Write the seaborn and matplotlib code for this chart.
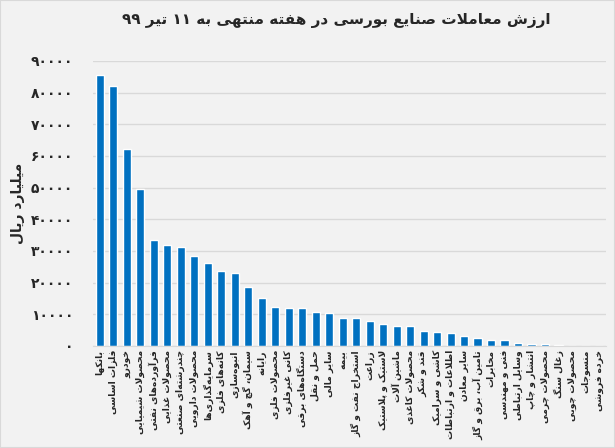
import re
import numpy as np
import pandas as pd
import seaborn as sns
import matplotlib
matplotlib.use("Agg")
import matplotlib.pyplot as plt

# industries, sorted by weekly trade value (billion rials)
industries = [
    "بانکها", "فلزات اساسی", "خودرو", "محصولات شیمیایی", "فرآورده‌های نفتی",
    "محصولات غذایی", "چندرشته‌ای صنعتی", "محصولات دارویی", "سرمایه‌گذاری‌ها",
    "کانه‌های فلزی", "انبوه‌سازی", "سیمان، گچ و آهک", "رایانه", "محصولات فلزی",
    "کانی غیرفلزی", "دستگاه‌های برقی", "حمل و نقل", "سایر مالی", "بیمه",
    "استخراج نفت و گاز", "زراعت", "لاستیک و پلاستیک", "ماشین آلات",
    "محصولات کاغذی", "قند و شکر", "کاشی و سرامیک", "اطلاعات و ارتباطات",
    "سایر معادن", "تامین آب، برق و گاز", "مخابرات", "فنی و مهندسی",
    "وسایل ارتباطی", "انتشار و چاپ", "محصولات چرمی", "زغال سنگ",
    "محصولات چوبی", "منسوجات", "خرده فروشی",
]
trade_value = [
    85700, 82000, 62100, 49400, 33400, 31900, 31100, 28400, 26100, 23500,
    23100, 18600, 15100, 12400, 12000, 11800, 10800, 10500, 8950, 8750,
    7800, 7050, 6420, 6200, 4650, 4330, 4100, 3050, 2630, 2000,
    1850, 1000, 650, 430, 220, 110, 60, 25,
]
y_ticks = [0, 10000, 20000, 30000, 40000, 50000, 60000, 70000, 80000, 90000]

title = "ارزش معاملات صنایع بورسی در هفته منتهی به ۱۱ تیر ۹۹"
y_title = "میلیارد ریال"

# matplotlib does no arabic shaping, so pick presentation forms by hand
# (isolated, final, initial, medial)
FORMS = {
    "ا": (0xFE8D, 0xFE8E), "آ": (0xFE81, 0xFE82), "أ": (0xFE83, 0xFE84),
    "د": (0xFEA9, 0xFEAA), "ذ": (0xFEAB, 0xFEAC), "ر": (0xFEAD, 0xFEAE),
    "ز": (0xFEAF, 0xFEB0), "ژ": (0xFB8A, 0xFB8B), "و": (0xFEED, 0xFEEE),
    "ب": (0xFE8F, 0xFE90, 0xFE91, 0xFE92), "پ": (0xFB56, 0xFB57, 0xFB58, 0xFB59),
    "ت": (0xFE95, 0xFE96, 0xFE97, 0xFE98), "ث": (0xFE99, 0xFE9A, 0xFE9B, 0xFE9C),
    "ج": (0xFE9D, 0xFE9E, 0xFE9F, 0xFEA0), "چ": (0xFB7A, 0xFB7B, 0xFB7C, 0xFB7D),
    "ح": (0xFEA1, 0xFEA2, 0xFEA3, 0xFEA4), "خ": (0xFEA5, 0xFEA6, 0xFEA7, 0xFEA8),
    "س": (0xFEB1, 0xFEB2, 0xFEB3, 0xFEB4), "ش": (0xFEB5, 0xFEB6, 0xFEB7, 0xFEB8),
    "ص": (0xFEB9, 0xFEBA, 0xFEBB, 0xFEBC), "ض": (0xFEBD, 0xFEBE, 0xFEBF, 0xFEC0),
    "ط": (0xFEC1, 0xFEC2, 0xFEC3, 0xFEC4), "ظ": (0xFEC5, 0xFEC6, 0xFEC7, 0xFEC8),
    "ع": (0xFEC9, 0xFECA, 0xFECB, 0xFECC), "غ": (0xFECD, 0xFECE, 0xFECF, 0xFED0),
    "ف": (0xFED1, 0xFED2, 0xFED3, 0xFED4), "ق": (0xFED5, 0xFED6, 0xFED7, 0xFED8),
    "ک": (0xFB8E, 0xFB8F, 0xFB90, 0xFB91), "گ": (0xFB92, 0xFB93, 0xFB94, 0xFB95),
    "ل": (0xFEDD, 0xFEDE, 0xFEDF, 0xFEE0), "م": (0xFEE1, 0xFEE2, 0xFEE3, 0xFEE4),
    "ن": (0xFEE5, 0xFEE6, 0xFEE7, 0xFEE8), "ه": (0xFEE9, 0xFEEA, 0xFEEB, 0xFEEC),
    "ی": (0xFBFC, 0xFBFD, 0xFBFE, 0xFBFF),
}
LAM_ALEF = {"ا": (0xFEFB, 0xFEFC), "آ": (0xFEF5, 0xFEF6), "أ": (0xFEF7, 0xFEF8)}


def dual(c):
    return c in FORMS and len(FORMS[c]) == 4


def shape(s):
    out = []
    i = 0
    while i < len(s):
        c = s[i]
        if c not in FORMS:
            if c != "\u200c":
                out.append(c)
            i += 1
            continue
        joins_prev = i > 0 and dual(s[i - 1])
        if c == "ل" and i + 1 < len(s) and s[i + 1] in LAM_ALEF:
            out.append(chr(LAM_ALEF[s[i + 1]][1 if joins_prev else 0]))
            i += 2
            continue
        joins_next = dual(c) and i + 1 < len(s) and s[i + 1] in FORMS
        f = FORMS[c]
        if joins_prev and joins_next:
            out.append(chr(f[3]))
        elif joins_next:
            out.append(chr(f[2]))
        elif joins_prev:
            out.append(chr(f[1]))
        else:
            out.append(chr(f[0]))
        i += 1
    vis = "".join(out[::-1])
    # digit runs stay left to right
    return re.sub("[۰-۹0-9]+", lambda m: m.group(0)[::-1], vis)


def fa_num(v):
    return str(v).translate(str.maketrans("0123456789", "۰۱۲۳۴۵۶۷۸۹"))


df = pd.DataFrame({"industry": [shape(t) for t in industries], "value": trade_value})

sns.set_style("white")
plt.rcParams["font.family"] = ["DejaVu Sans"]

fig = plt.figure(figsize=(6.15, 4.48), dpi=100, facecolor="#F2F2F2")
fig.patches.append(plt.Rectangle((0, 0), 1, 1, transform=fig.transFigure,
                                 fill=False, edgecolor="#D9D9D9", linewidth=1.5))
ax = fig.add_axes([0.151, 0.228, 0.834, 0.636])
ax.set_facecolor("#F2F2F2")

sns.barplot(data=df, x="industry", y="value", color="#0070C0", saturation=1,
            width=0.6, ax=ax)

ax.set_ylim(0, 90000)
ax.set_xlim(-0.5, len(industries) - 0.5)
ax.set_yticks(y_ticks)
ax.set_yticklabels([fa_num(v) for v in y_ticks], fontsize=10, fontweight="bold")
ax.yaxis.grid(True, color="#D9D9D9", linewidth=1)
ax.set_axisbelow(True)
ax.tick_params(axis="both", length=0)
ax.tick_params(axis="y", pad=14)
ax.tick_params(axis="x", pad=3)
plt.setp(ax.get_xticklabels(), rotation=90, fontsize=6.6, fontweight="bold",
         va="top", ha="center")
for side in ["left", "right", "top"]:
    ax.spines[side].set_visible(False)
ax.spines["bottom"].set_color("#D9D9D9")
ax.set_xlabel("")
ax.set_ylabel(shape(y_title), fontsize=10, fontweight="bold", labelpad=4)

fig.text(0.546, 0.955, shape(title), ha="center", va="center",
         fontsize=11, fontweight="bold")

fig.savefig("out.png", dpi=100, facecolor=fig.get_facecolor())
